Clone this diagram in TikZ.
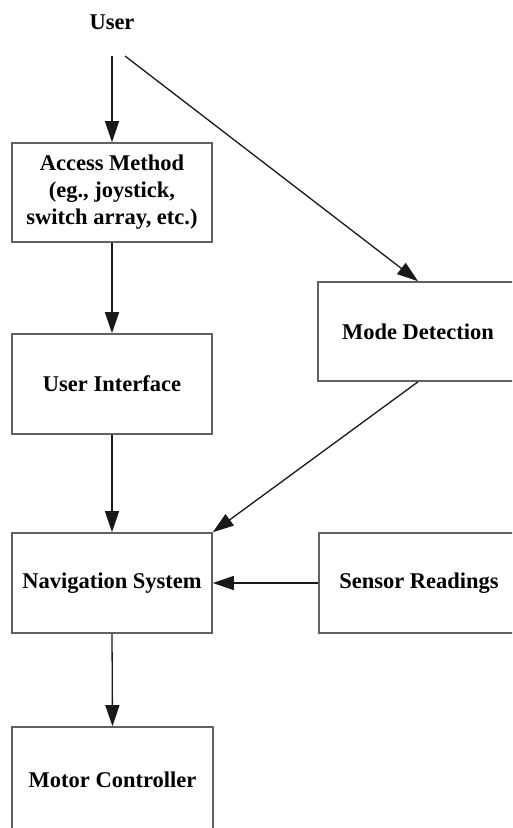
\documentclass[tikz,border=0pt]{standalone}
\usepackage{fontspec}
\setmainfont{Liberation Serif}
\usetikzlibrary{arrows.meta}
\tikzset{
  blockbox/.style={draw=black!62, line width=1.6pt, fill=white,
    minimum width=200pt, minimum height=99pt, inner sep=0pt, align=center,
    font=\bfseries\fontsize{22.5}{27}\selectfont},
  flow/.style={draw=black!90, line width=1.3pt,
    -{Triangle[length=21pt, width=14pt]}}
}
\begin{document}
\begin{tikzpicture}[x=1pt, y=-1pt]
  \clip (0,0) rectangle (512,828);
  \fill[white] (0,0) rectangle (512,828);

  % source label and the two points its connectors leave from
  \node[font=\bfseries\fontsize{22.5}{27}\selectfont] (user) at (112,22) {User};
  \coordinate (userA) at (112,56);
  \coordinate (userB) at (125,56);

  % left column
  \node[blockbox] (access) at (112,192.5) {Access Method\\(eg., joystick,\\switch array, etc.)};
  \node[blockbox, minimum height=100pt] (ui) at (112,384) {User Interface};
  \node[blockbox, minimum height=100pt] (nav) at (112,583) {Navigation System};
  \node[blockbox, minimum height=106pt, minimum width=201pt] (motor) at (112.5,780) {Motor Controller};

  % right column
  \node[blockbox] (mode) at (418,331.5) {Mode Detection};
  \node[blockbox, minimum height=100pt] (sensor) at (419,583) {Sensor Readings};

  % connectors
  \draw[flow] (userA) -- (access.north);
  \draw[flow] (userB) -- (mode.north);
  \draw[flow] (access.south) -- (ui.north);
  \draw[flow] (ui.south) -- (nav.north);
  \draw[flow] (mode.south) -- (nav.north east);
  \draw[flow] (sensor.west) -- (nav.east);
  \draw[flow] (nav.south) -- (motor.north);
\end{tikzpicture}
\end{document}
